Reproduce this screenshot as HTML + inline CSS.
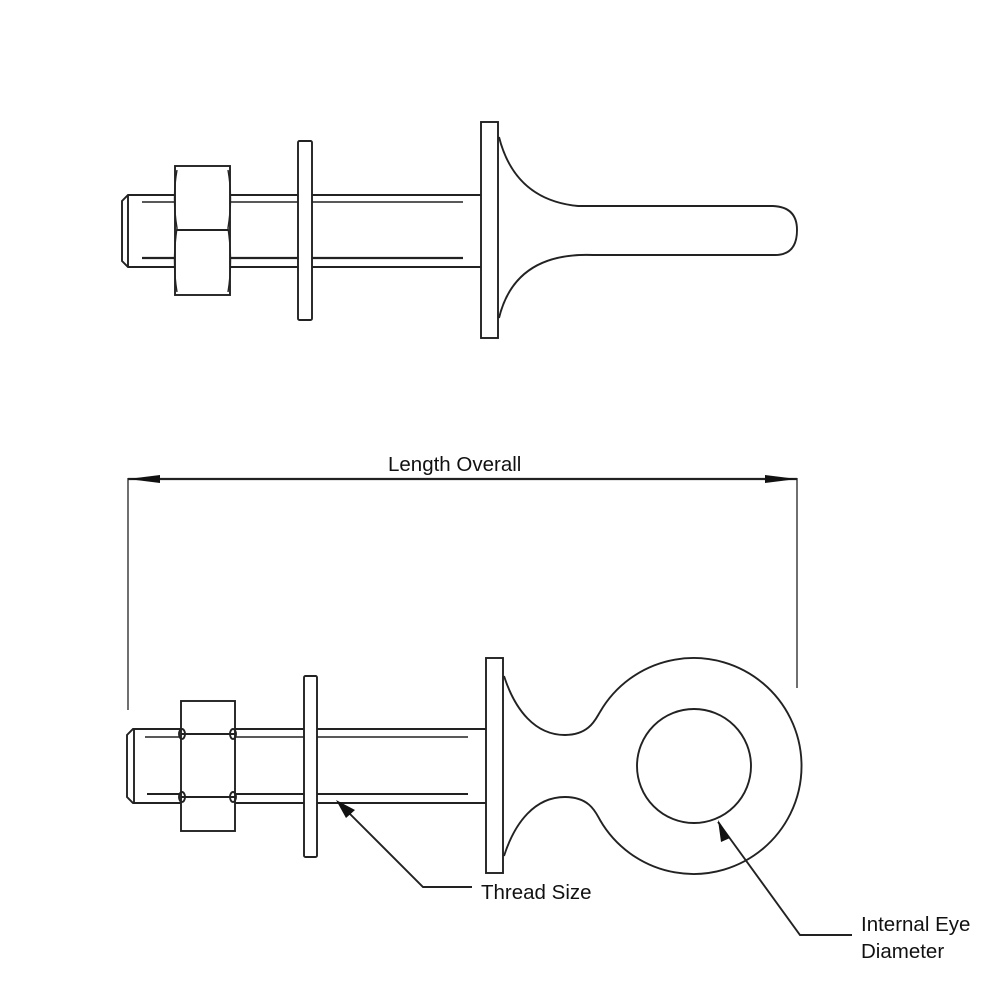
<!DOCTYPE html>
<html><head><meta charset="utf-8"><style>
html,body{margin:0;padding:0;background:#fff;}
svg{display:block;}
text{font-family:"Liberation Sans",sans-serif;font-size:20.5px;fill:#111;}
</style></head><body>
<svg width="1000" height="1000" viewBox="0 0 1000 1000" xmlns="http://www.w3.org/2000/svg">
<g fill="none" stroke="#222" stroke-width="1.9">
<!-- TOP VIEW -->
<path d="M175 195 H128 L122 201 V261 L128 267 H175"/>
<line x1="128" y1="195" x2="128" y2="267"/>
<line x1="142" y1="202" x2="175" y2="202" stroke-width="1.4"/>
<line x1="142" y1="258" x2="175" y2="258" stroke-width="2.2"/>
<rect x="175" y="166" width="55" height="129"/>
<line x1="177" y1="230" x2="228" y2="230"/>
<path d="M177 170 Q172 198 177 228 Q172 262 177 292" stroke-width="1.4"/>
<path d="M228 170 Q233 198 228 228 Q233 262 228 292" stroke-width="1.4"/>
<line x1="230" y1="195" x2="298" y2="195"/>
<line x1="230" y1="267" x2="298" y2="267"/>
<line x1="230" y1="202" x2="298" y2="202" stroke-width="1.4"/>
<line x1="230" y1="258" x2="298" y2="258" stroke-width="2.2"/>
<rect x="298" y="141" width="14" height="179" rx="1.5"/>
<line x1="312" y1="195" x2="481" y2="195"/>
<line x1="312" y1="267" x2="481" y2="267"/>
<line x1="312" y1="202" x2="463" y2="202" stroke-width="1.4"/>
<line x1="312" y1="258" x2="463" y2="258" stroke-width="2.2"/>
<rect x="481" y="122" width="17" height="216"/>
<path d="M499 137 Q515 200 578 206 H773 Q797 207 797 230 Q797 255 775 255 H593 Q515 252 499 318"/>
<!-- DIMENSION -->
<line x1="128" y1="478" x2="128" y2="710" stroke-width="1.3"/>
<line x1="797" y1="478" x2="797" y2="688" stroke-width="1.3"/>
<line x1="128" y1="479" x2="797" y2="479" stroke-width="2.2"/>
<!-- BOTTOM VIEW -->
<path d="M181 729 H133 L127 735 V797 L133 803 H181"/>
<line x1="134" y1="729" x2="134" y2="803"/>
<line x1="145" y1="737" x2="181" y2="737" stroke-width="1.5"/>
<line x1="147" y1="794" x2="181" y2="794" stroke-width="2"/>
<rect x="181" y="701" width="54" height="130"/>
<line x1="181" y1="734" x2="235" y2="734"/>
<line x1="181" y1="797" x2="235" y2="797"/>
<ellipse cx="182" cy="734" rx="3" ry="5"/>
<ellipse cx="182" cy="797" rx="3" ry="5"/>
<ellipse cx="233" cy="734" rx="3" ry="5"/>
<ellipse cx="233" cy="797" rx="3" ry="5"/>
<line x1="235" y1="729" x2="304" y2="729"/>
<line x1="235" y1="803" x2="304" y2="803"/>
<line x1="235" y1="737" x2="304" y2="737" stroke-width="1.5"/>
<line x1="235" y1="794" x2="304" y2="794" stroke-width="2"/>
<rect x="304" y="676" width="13" height="181" rx="1.5"/>
<line x1="317" y1="729" x2="486" y2="729"/>
<line x1="317" y1="803" x2="486" y2="803"/>
<line x1="317" y1="737" x2="468" y2="737" stroke-width="1.5"/>
<line x1="317" y1="794" x2="468" y2="794" stroke-width="2"/>
<rect x="486" y="658" width="17" height="215"/>
<path d="M504 676 C515 710 535 735 565 735 C590 735 596 718 600 712 A108 108 0 1 1 600 820 C596 813 590 797 565 797 C535 797 515 822 504 856"/>
<circle cx="694" cy="766" r="57"/>
<!-- leaders -->
<polyline points="338,802 423,887 472,887"/>
<polyline points="718,822 800,935 852,935"/>
</g>
<g fill="#111">
<polygon points="128,479 160,475 160,483"/>
<polygon points="797,479 765,475 765,483"/>
<polygon points="336,800 355,810 346,818"/>
<polygon points="718,820 730,838 721,842"/>
</g>
<text x="388" y="471">Length Overall</text>
<text x="481" y="899">Thread Size</text>
<text x="861" y="931">Internal Eye</text>
<text x="861" y="958">Diameter</text>
</svg>
</body></html>
